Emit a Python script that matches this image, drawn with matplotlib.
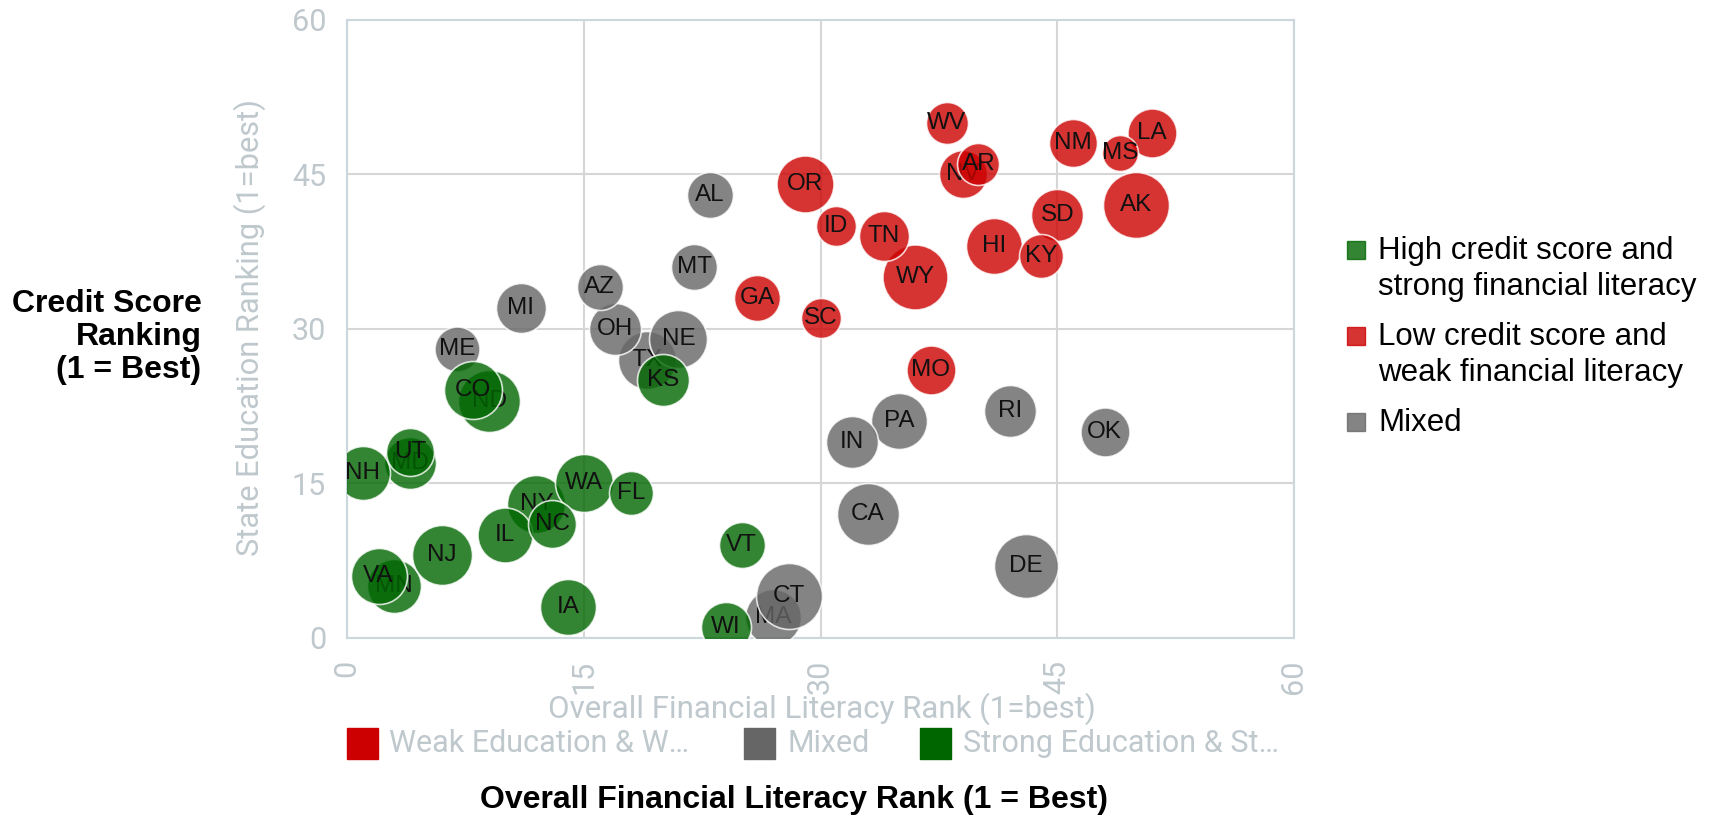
import matplotlib.pyplot as plt
from matplotlib.patches import Rectangle

# state data (x = financial literacy rank, y = education rank)
states = ['TX', 'OH', 'NE', 'AZ', 'AL', 'MT', 'MI', 'ME', 'PA', 'IN', 'RI', 'OK', 'CA', 'DE', 'MA', 'CT',
          'WY', 'TN', 'OR', 'ID', 'WV', 'NV', 'AR', 'HI', 'SD', 'KY', 'NM', 'LA', 'MS', 'AK', 'GA', 'SC', 'MO',
          'ND', 'CO', 'MD', 'NH', 'UT', 'MN', 'VA', 'NJ', 'NY', 'IL', 'WA', 'NC', 'FL', 'IA', 'VT', 'WI', 'KS']
fin_rank = [19, 17, 21, 16, 23, 22, 11, 7, 35, 32, 42, 48, 33, 43, 27, 28,
            36, 34, 29, 31, 38, 39, 40, 41, 45, 44, 46, 51, 49, 50, 26, 30, 37,
            9, 8, 4, 1, 4, 3, 2, 6, 12, 10, 15, 13, 18, 14, 25, 24, 20]
edu_rank = [27, 30, 29, 34, 43, 36, 32, 28, 21, 19, 22, 20, 12, 7, 2, 4,
            35, 39, 44, 40, 50, 45, 46, 38, 41, 37, 48, 49, 47, 42, 33, 31, 26,
            23, 24, 17, 16, 18, 5, 6, 8, 13, 10, 15, 11, 14, 3, 9, 1, 25]
bubble = [29, 26, 29, 23, 23, 23, 25, 22.5, 28, 26, 26, 24.5, 31, 32, 28, 33,
          32.5, 25, 28.5, 20, 21, 24, 21, 28, 26, 22, 24, 24.5, 18, 33, 23, 20, 24.5,
          31, 29, 26, 27, 24, 27, 28, 30, 29, 27.5, 29, 24, 22, 28, 23, 25, 26]
group = ['mixed'] * 16 + ['weak'] * 17 + ['strong'] * 17

colors = {'weak': '#cc0000', 'mixed': '#666666', 'strong': '#006600'}
legend_right = ['High credit score and\nstrong financial literacy',
                'Low credit score and\nweak financial literacy',
                'Mixed']
legend_bottom = ['Weak Education & W…', 'Mixed', 'Strong Education & St…']

W, H = 1718, 817
grey = '#bfc8cd'


def fx(px):
    return px / W


def fy(py):
    return 1 - py / H


fig = plt.figure(figsize=(W / 100, H / 100), dpi=100)
ax = fig.add_axes([fx(347), fy(637.7), (1294 - 347) / W, (637.7 - 19.5) / H])

for i, st in enumerate(states):
    s = (2 * bubble[i] * 0.72) ** 2
    ax.scatter(fin_rank[i], edu_rank[i], s=s, color=colors[group[i]], alpha=0.8,
               edgecolors='white', linewidths=1.2, zorder=3 + 2 * i)
    ax.text(fin_rank[i], edu_rank[i], st, ha='center', va='center', fontsize=17.5,
            family='Liberation Sans', color='#111111', zorder=4 + 2 * i, clip_on=True)

ax.set_xlim(0, 60)
ax.set_ylim(0, 60)
ax.set_xticks([0, 15, 30, 45, 60])
ax.set_yticks([0, 15, 30, 45, 60])
ax.tick_params(length=0, colors=grey, labelsize=22)
ax.tick_params(axis='x', pad=16, labelrotation=90)
ax.tick_params(axis='y', pad=15)
for lab in ax.get_xticklabels() + ax.get_yticklabels():
    lab.set_family('Roboto')
ax.grid(color='#d6d6d6', lw=1.5)
ax.set_axisbelow(True)
for sp in ax.spines.values():
    sp.set_color('#ccd6dd')
    sp.set_linewidth(1.5)

fig.text(fx(250), fy(328), 'State Education Ranking (1=best)', rotation=90, ha='center', va='center',
         color=grey, fontsize=22.2, family='Roboto')
fig.text(fx(822), fy(709), 'Overall Financial Literacy Rank (1=best)', ha='center', va='center',
         color=grey, fontsize=22.5, family='Roboto')

# bottom legend
for px, tx, lab, key in zip([347, 744, 920], [389, 788, 963], legend_bottom, ['weak', 'mixed', 'strong']):
    fig.add_artist(Rectangle((fx(px), fy(759)), 31 / W, 31 / H, transform=fig.transFigure,
                             color=colors[key]))
    fig.text(fx(tx), fy(743.5), lab, ha='left', va='center', color=grey, fontsize=22, family='Roboto')

# right legend
for sq_y, lab, key in zip([250, 336, 422], legend_right, ['strong', 'weak', 'mixed']):
    fig.add_artist(Rectangle((fx(1347), fy(sq_y + 9)), 18 / W, 18 / H, transform=fig.transFigure,
                             color=colors[key], alpha=0.8))
    lines = lab.split('\n')
    for j, line in enumerate(lines):
        fig.text(fx(1378), fy(sq_y + 1 + 35.5 * j), line, ha='left', va='center', fontsize=22.5,
                 family='Liberation Sans', color='black')

# black titles
for j, line in enumerate(['Credit Score', 'Ranking', '(1 = Best)']):
    fig.text(fx(201.6), fy(303.5 + 33.5 * j), line, ha='right', va='center', fontsize=23,
             fontweight='bold', family='Liberation Sans')
fig.text(fx(794), fy(800), 'Overall Financial Literacy Rank (1 = Best)', ha='center', va='center',
         fontsize=23, fontweight='bold', family='Liberation Sans')

plt.savefig('out.png', dpi=100)
